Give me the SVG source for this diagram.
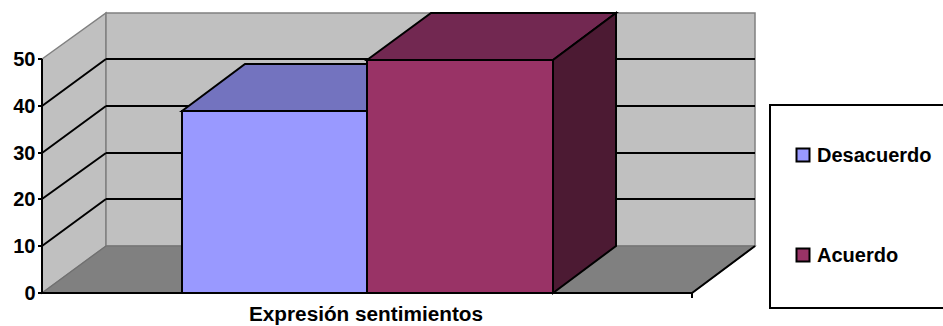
<svg xmlns="http://www.w3.org/2000/svg" width="943" height="326" viewBox="0 0 943 326">
<style>
.wall{fill:#c0c0c0;stroke:#808080;stroke-width:1.5}
.floor{fill:#808080;stroke:#707070;stroke-width:1.2}
.grid{stroke:#000;stroke-width:2;fill:none}
.bar{stroke:#000;stroke-width:2;stroke-linejoin:miter}
.lbl{font-family:"Liberation Sans",Arial,sans-serif;font-weight:bold;font-size:20px;fill:#000}
</style>
<rect width="943" height="326" fill="#fff"/>
<g id="walls">
<polygon class="wall" points="42,59 106,13 106,246 42,293"/>
<rect class="wall" x="106" y="13" width="649" height="233"/>
<polygon class="floor" points="42,293 106,246 755,246 692,293"/>
</g>
<g id="gridlines">
<path class="grid" d="M106,59H755M106,106H755M106,153H755M106,199H755"/>
<path class="grid" d="M42,106L106,59M42,153L106,106M42,199L106,153M42,246L106,199"/>
</g>
<g id="bar-desacuerdo">
<polygon class="bar" fill="#7373bf" points="182,111 245,64 430,64 367,111"/>
<rect class="bar" fill="#9999ff" x="182" y="111" width="185" height="182"/>
</g>
<g id="bar-acuerdo">
<polygon class="bar" fill="#722851" points="367,60 431,13 616,13 553,60"/>
<polygon class="bar" fill="#4c1a33" points="553,60 616,13 616,246 553,293"/>
<rect class="bar" fill="#993366" x="367" y="60" width="186" height="233"/>
</g>
<g id="axes">
<path class="grid" d="M42,59V294M42,293H692L755,246M692,293V298"/>
<path class="grid" d="M38,59H42M38,106H42M38,153H42M38,199H42M38,246H42M38,293H42"/>
<g class="lbl" text-anchor="end">
<text x="35.5" y="66">50</text>
<text x="35.5" y="113">40</text>
<text x="35.5" y="160">30</text>
<text x="35.5" y="206">20</text>
<text x="35.5" y="253">10</text>
<text x="35.5" y="300">0</text>
</g>
<text class="lbl" x="249" y="321" textLength="234" lengthAdjust="spacingAndGlyphs">Expresión sentimientos</text>
</g>
<g id="legend">
<rect x="770" y="105" width="190" height="203" fill="#fff" stroke="#000" stroke-width="2"/>
<rect x="796.5" y="148.5" width="13" height="13" fill="#9999ff" stroke="#000" stroke-width="2"/>
<text class="lbl" x="817" y="162">Desacuerdo</text>
<rect x="796.5" y="248.5" width="13" height="13" fill="#993366" stroke="#000" stroke-width="2"/>
<text class="lbl" x="817" y="262">Acuerdo</text>
</g>
</svg>
